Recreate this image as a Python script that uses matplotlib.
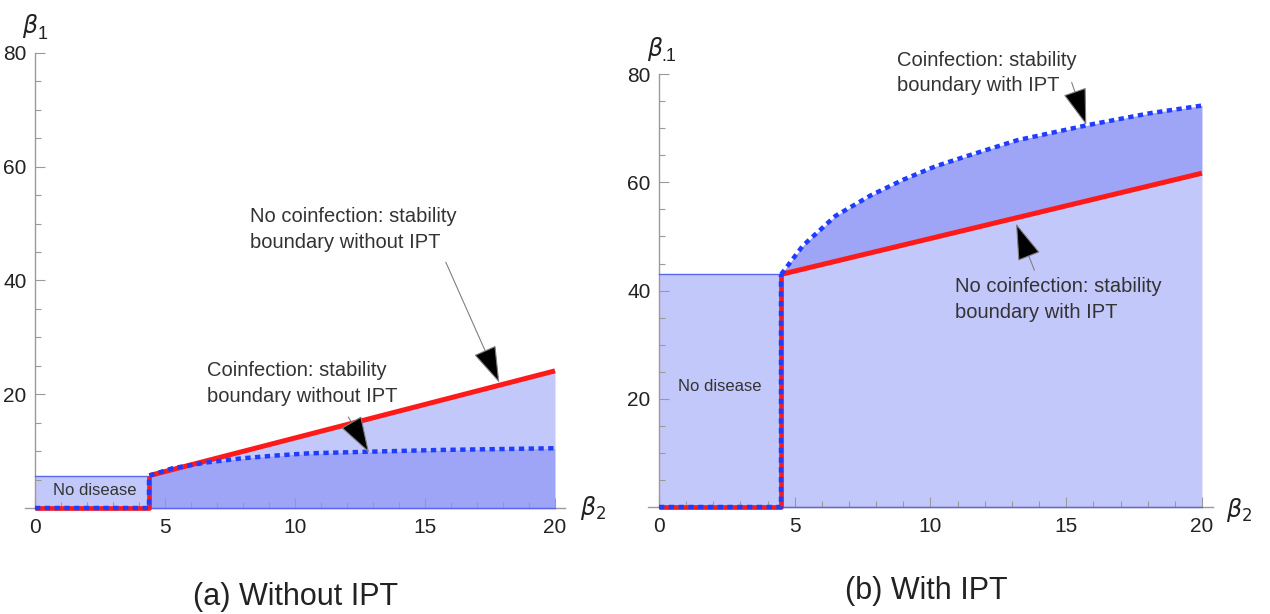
import numpy as np
import matplotlib.pyplot as plt
from matplotlib.ticker import FixedLocator

# panel (a): without IPT
a_crit = 4.4            # beta_2 threshold
a_box_h = 5.7           # height of "No disease" region
a_coinf_b2 = [4.4, 5.3, 6.6, 7.9, 9.2, 10.5, 12.9, 15.6, 20.0]
a_coinf_b1 = [5.7, 7.0, 8.0, 8.7, 9.2, 9.6, 9.9, 10.2, 10.5]
a_nocoinf_b2 = [4.4, 20.0]
a_nocoinf_b1 = [5.7, 24.1]

# panel (b): with IPT
b_crit = 4.5
b_box_h = 43.0
b_coinf_b2 = [4.5, 5.3, 6.5, 7.8, 9.0, 10.2, 11.3, 13.2, 15.8, 18.1, 20.0]
b_coinf_b1 = [43.0, 48.3, 53.8, 57.6, 60.5, 63.0, 64.8, 67.8, 70.6, 72.8, 74.2]
b_nocoinf_b2 = [4.5, 20.0]
b_nocoinf_b1 = [43.0, 61.7]

x_major = [0, 5, 10, 15, 20]
x_minor = list(range(0, 21))
y_major = [20, 40, 60, 80]
y_minor = list(range(5, 80, 5))

LIGHT = '#c3c8fb'
DARK = '#9ea5f7'
EDGE = '#5b66ee'
RED = '#ff1a1a'
BLUE = '#1f3cff'
TXT = '#333333'
AXC = '#9a9a9a'

ann_font = ['Liberation Sans', 'DejaVu Sans']

fig = plt.figure(figsize=(12.7, 6.14), dpi=100)
ax_a = fig.add_axes([3.8 / 1270, 60.5 / 614, 608.4 / 1270, 546.2 / 614])
ax_b = fig.add_axes([626.4 / 1270, 63.7 / 614, 635.3 / 1270, 519.4 / 614])


def style_axes(ax):
    ax.set_xlim(-1.2, 22.2)
    ax.set_ylim(-8, 88)
    ax.patch.set_alpha(0)
    for s in ['top', 'right']:
        ax.spines[s].set_visible(False)
    ax.spines['left'].set_position(('data', 0))
    ax.spines['bottom'].set_position(('data', 0))
    ax.spines['left'].set_bounds(0, 80)
    ax.spines['bottom'].set_bounds(-0.4, 20.4)
    for s in ['left', 'bottom']:
        ax.spines[s].set_color(AXC)
        ax.spines[s].set_linewidth(1.0)
    ax.xaxis.set_major_locator(FixedLocator(x_major))
    ax.xaxis.set_minor_locator(FixedLocator(x_minor))
    ax.yaxis.set_major_locator(FixedLocator(y_major))
    ax.yaxis.set_minor_locator(FixedLocator(y_minor))
    ax.tick_params(which='major', direction='in', length=7, width=0.8,
                   color=AXC, labelsize=15, labelcolor='#222222')
    ax.tick_params(which='minor', direction='in', length=4, width=0.8,
                   color=AXC)
    ax.tick_params(axis='x', pad=7)
    ax.tick_params(axis='y', pad=6)
    for lab in ax.get_xticklabels() + ax.get_yticklabels():
        lab.set_family(ann_font)
        lab.set_stretch('condensed')


def boundary(ax, crit, box_h):
    # red/blue overlapping dashed boundary along axis and vertical jump
    ax.plot([0, crit, crit], [0, 0, box_h], color=RED, lw=3.4,
            solid_capstyle='butt', zorder=5)
    ax.plot([0, crit, crit], [0, 0, box_h], color=BLUE, lw=3.2,
            linestyle=(0, (1.2, 1.0)), zorder=6)
    ax.plot([0, crit], [box_h, box_h], color=EDGE, lw=1.0, zorder=4)
    ax.plot([0, 20], [0, 0], color=EDGE, lw=1.0, zorder=4)


def arrow(ax, text, xy, xytext, tx, ty):
    ax.text(tx, ty, text, fontsize=14.5, color=TXT, family=ann_font,
            ha='left', va='center', linespacing=1.45, zorder=8)
    ax.annotate('', xy=xy, xytext=xytext, zorder=9,
                arrowprops=dict(arrowstyle='-|>,head_length=1.7,head_width=0.55',
                                mutation_scale=14, lw=0.8,
                                color='#808080', fc='black', ec='#808080',
                                shrinkA=0, shrinkB=0))


# ---- panel (a)
ax = ax_a
style_axes(ax)
cb2 = np.array(a_coinf_b2)
red_a = np.interp(cb2, a_nocoinf_b2, a_nocoinf_b1)
ax.fill_between([0, a_crit], 0, a_box_h, color=LIGHT, lw=0, zorder=1)
ax.fill_between(cb2, a_coinf_b1, red_a, color=LIGHT, lw=0, zorder=1)
ax.fill_between(cb2, 0, a_coinf_b1, color=DARK, lw=0, zorder=1)
boundary(ax, a_crit, a_box_h)
ax.plot(a_nocoinf_b2, a_nocoinf_b1, color=RED, lw=3.6, zorder=5,
        solid_capstyle='butt')
ax.plot(a_coinf_b2, a_coinf_b1, color=BLUE, lw=3.2,
        linestyle=(0, (1.2, 1.0)), zorder=6)
ax.text(2.3, 3.0, 'No disease', fontsize=12, color=TXT, family=ann_font,
        ha='center', va='center', zorder=8)
arrow(ax, 'No coinfection: stability\nboundary without IPT',
      (17.86, 22.0), (15.8, 43.2), 8.27, 48.9)
arrow(ax, 'Coinfection: stability\nboundary without IPT',
      (12.85, 9.7), (12.05, 16.0), 6.6, 21.9)
ax.text(-0.2, 84.8, r'$\beta$', fontsize=17, ha='center', va='center',
        color='#222222')
ax.text(0.3, 83.3, '1', fontsize=13, ha='center', va='center',
        color='#222222', family=ann_font)
ax.text(21.45, 0, r'$\beta_2$', fontsize=17, ha='center', va='center',
        color='#222222')

# ---- panel (b)
ax = ax_b
style_axes(ax)
cb2 = np.array(b_coinf_b2)
red_b = np.interp(cb2, b_nocoinf_b2, b_nocoinf_b1)
ax.fill_between([0, b_crit], 0, b_box_h, color=LIGHT, lw=0, zorder=1)
ax.fill_between(cb2, 0, red_b, color=LIGHT, lw=0, zorder=1)
ax.fill_between(cb2, red_b, b_coinf_b1, color=DARK, lw=0, zorder=1)
boundary(ax, b_crit, b_box_h)
ax.plot(b_nocoinf_b2, b_nocoinf_b1, color=RED, lw=3.6, zorder=5,
        solid_capstyle='butt')
ax.plot(b_coinf_b2, b_coinf_b1, color=BLUE, lw=3.2,
        linestyle=(0, (1.2, 1.0)), zorder=6)
ax.text(2.23, 22.2, 'No disease', fontsize=12, color=TXT, family=ann_font,
        ha='center', va='center', zorder=8)
arrow(ax, 'Coinfection: stability\nboundary with IPT',
      (15.74, 70.6), (15.2, 78.5), 8.77, 80.2)
arrow(ax, 'No coinfection: stability\nboundary with IPT',
      (13.15, 52.4), (13.83, 43.75), 10.9, 38.3)
ax.text(-0.15, 84.6, r'$\beta$', fontsize=17, ha='center', va='center',
        color='#222222')
ax.text(0.35, 83.2, '.1', fontsize=13, ha='center', va='center',
        color='#222222', family=ann_font)
ax.text(21.35, -0.5, r'$\beta_2$', fontsize=17, ha='center', va='center',
        color='#222222')

# captions
fig.text(296 / 1270, 1 - 597 / 614, '(a) Without IPT', fontsize=22,
         family=ann_font, ha='center', va='center', color='#222222')
fig.text(926 / 1270, 1 - 591 / 614, '(b) With IPT', fontsize=22,
         family=ann_font, ha='center', va='center', color='#222222')

fig.savefig('out.png', dpi=100)
